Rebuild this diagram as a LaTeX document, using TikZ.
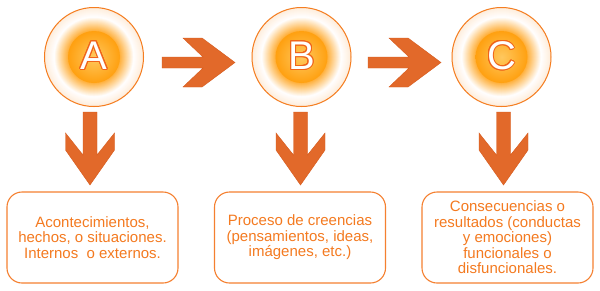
\documentclass[tikz,border=0pt]{standalone}
\usepackage{fontspec}
\setmainfont{Liberation Sans}
\usetikzlibrary{calc}
\definecolor{arrowc}{HTML}{E2692A}
\definecolor{arrowedge}{HTML}{D65A1C}
\definecolor{ringc}{HTML}{F57D20}
\definecolor{glowc}{HTML}{FFA31A}
\definecolor{peach}{HTML}{FDC48A}
\definecolor{corec}{HTML}{FFA010}
\definecolor{corein}{HTML}{FFC85E}
\definecolor{txtc}{HTML}{F47A20}
\definecolor{boxc}{HTML}{F58030}
\definecolor{letteredge}{HTML}{F0641A}
\tikzset{
  rarr/.pic={\filldraw[fill=arrowc,draw=arrowedge,line width=0.4pt,line join=miter]
     (0,-5.5) -- (41,-5.5) -- (21,-24.5) -- (40,-24.5) -- (73,0) -- (40,24.5)
     -- (21,24.5) -- (41,5.5) -- (0,5.5) -- cycle;},
  darr/.pic={\filldraw[fill=arrowc,draw=arrowedge,line width=0.4pt,line join=miter]
     (-7,0) -- (-7,43) -- (-24.5,21) -- (-24.5,38) -- (0,73) -- (24.5,38)
     -- (24.5,21) -- (7,43) -- (7,0) -- cycle;},
  ring/.style={circle,draw=ringc,line width=1pt,minimum size=99,inner sep=0},
  letter/.style={font=\fontsize{40}{40}\selectfont,inner sep=0},
  box/.style={draw=boxc,line width=1.1pt,rounded corners=15,fill=white,
     minimum width=171,minimum height=91,align=center,text=txtc,
     font=\fontsize{15}{15.5}\selectfont,inner sep=0}
}
\begin{document}
\begin{tikzpicture}[x=1pt,y=-1pt]
\useasboundingbox (0,0) rectangle (600,290);
\fill[white] (0,0) rectangle (600,290);
\foreach \n/\x/\L in {a/94/A,b/301.5/B,c/501.5/C}{
  \foreach \r in {50,49.5,...,26}{
    \ifdim\r pt<40pt
      \pgfmathsetmacro\t{88*(40-\r)/14}
      \fill[glowc!\t!white] (\x,57) circle (\r);
    \else
      \pgfmathsetmacro\t{32*(\r-40)/10}
      \fill[peach!\t!white] (\x,57) circle (\r);
    \fi
  }
  \shade[inner color=corein,outer color=corec] (\x,57) circle (26);
  \node[ring] (\n) at (\x,57) {};
  \foreach \ang [count=\i] in {0,22.5,...,337.5}{
    \node[letter,text=letteredge] (\n o\i) at ($(\x,55.5)+(\ang:1)$) {\L};
  }
  \node[letter,text=white] (\n l) at (\x,55.5) {\L};
}
\pic (r1) at (162,62.5) {rarr};
\pic (r2) at (368,62.5) {rarr};
\pic (d1) at (90,112) {darr};
\pic (d2) at (300.5,112) {darr};
\pic (d3) at (503.5,112) {darr};
\node[box] (ta) at (92.5,237.5) {Acontecimientos,\\hechos, o situaciones.\\Internos\ \ o externos.};
\node[box] (tb) at (300,237.5) {Proceso de creencias\\(pensamientos, ideas,\\imágenes, etc.)};
\node[box] (tc) at (507.5,237.5) {Consecuencias o\\resultados (conductas\\y emociones)\\funcionales o\\disfuncionales.};
\end{tikzpicture}
\end{document}
